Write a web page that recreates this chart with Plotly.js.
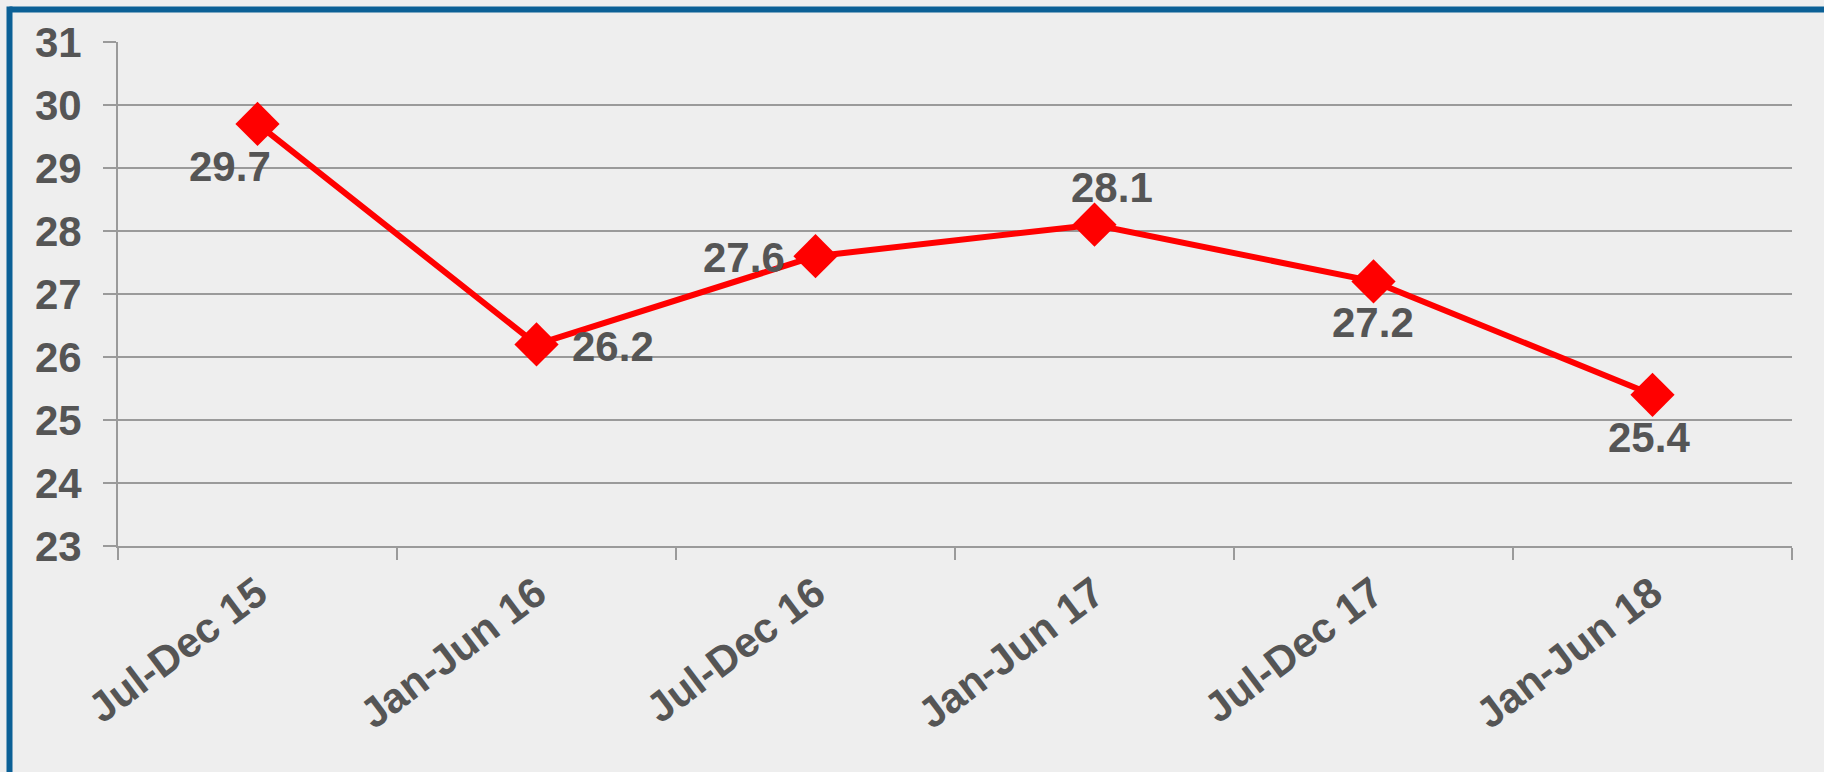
<!DOCTYPE html>
<html>
<head>
<meta charset="utf-8">
<script src="https://cdn.plot.ly/plotly-3.0.1.min.js"></script>
<style>
  html, body { margin: 0; padding: 0; background: #eeeeee; }
  #chart { width: 1824px; height: 772px; }
</style>
</head>
<body>
<div id="chart"></div>
<script>
// ---- data ----
const periods = ["Jul-Dec 15", "Jan-Jun 16", "Jul-Dec 16", "Jan-Jun 17", "Jul-Dec 17", "Jan-Jun 18"];
const values = [29.7, 26.2, 27.6, 28.1, 27.2, 25.4];
const yTicks = [23, 24, 25, 26, 27, 28, 29, 30, 31];

// ---- label placement (pixels, relative to marker) ----
const labelShiftX = [-28, 76, -72, 17, -1, -4];
const labelShiftY = [-43, -2, -1, 37, -41, -43];

const textColor = "#555555";
const gridColor = "#9a9a9a";
const fontFam = "Arial, 'Liberation Sans', sans-serif";

const trace = {
  x: periods,
  y: values,
  type: "scatter",
  mode: "lines+markers",
  line: { color: "#ff0000", width: 6 },
  marker: { symbol: "diamond", size: 34, color: "#ff0000", line: { width: 0 } },
  hoverinfo: "x+y"
};

const annotations = values.map((v, i) => ({
  x: periods[i],
  y: v,
  xref: "x",
  yref: "y",
  text: v.toFixed(1),
  showarrow: false,
  xshift: labelShiftX[i],
  yshift: labelShiftY[i],
  font: { family: fontFam, size: 42, color: textColor, weight: "bold" }
}));

// border (blue frame on top and left)
const L = 118, R = 1792, T = 42, B = 546;
const px2x = p => (p - L) / (R - L);
const px2y = p => (B - p) / (B - T);
const shapes = [
  { type: "line", xref: "paper", yref: "paper", x0: px2x(9.5), x1: px2x(1830), y0: px2y(9.5), y1: px2y(9.5),
    line: { color: "#0b6096", width: 6 } },
  { type: "line", xref: "paper", yref: "paper", x0: px2x(9.5), x1: px2x(9.5), y0: px2y(6.5), y1: px2y(780),
    line: { color: "#0b6096", width: 6 } }
];

const layout = {
  width: 1824,
  height: 772,
  paper_bgcolor: "#eeeeee",
  plot_bgcolor: "#eeeeee",
  margin: { l: L, r: 1824 - R, t: T, b: 772 - B, pad: 0 },
  showlegend: false,
  font: { family: fontFam, color: textColor },
  xaxis: {
    type: "category",
    range: [-0.5, periods.length - 0.5],
    tickson: "boundaries",
    ticks: "outside",
    ticklen: 12,
    tickwidth: 2,
    tickcolor: gridColor,
    showgrid: false,
    showline: true,
    linecolor: gridColor,
    linewidth: 2,
    tickangle: -37,
    tickfont: { family: fontFam, size: 42, color: textColor, weight: "bold" },
    ticklabelstandoff: 4,
    zeroline: false,
    fixedrange: true
  },
  yaxis: {
    range: [23, 31],
    tickvals: yTicks,
    ticktext: yTicks.map(String),
    ticks: "outside",
    ticklen: 13,
    tickwidth: 2,
    tickcolor: gridColor,
    showgrid: true,
    gridcolor: gridColor,
    gridwidth: 2,
    showline: true,
    linecolor: gridColor,
    linewidth: 2,
    zeroline: false,
    tickfont: { family: fontFam, size: 42, color: textColor, weight: "bold" },
    ticklabelstandoff: 13,
    fixedrange: true
  },
  annotations: annotations,
  shapes: shapes
};

Plotly.newPlot("chart", [trace], layout, { displayModeBar: false, staticPlot: true });
</script>
</body>
</html>
